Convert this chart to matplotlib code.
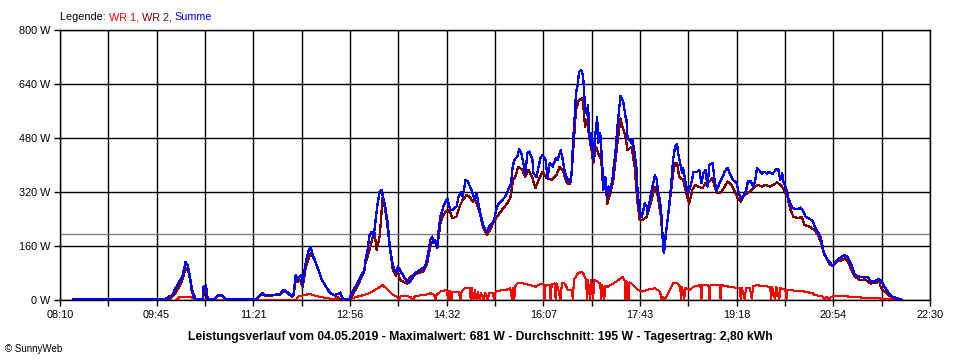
import matplotlib
matplotlib.use("Agg")
import matplotlib.pyplot as plt
import numpy as np

# ---------------- data ----------------
summe = [("08:23", 2), ("09:49", 2), ("09:54", 3), ("09:57", 9), ("10:01", 14), ("10:03", 28),
         ("10:07", 50), ("10:11", 69), ("10:13", 98), ("10:14", 112), ("10:16", 105), ("10:17", 92),
         ("10:19", 59), ("10:20", 30), ("10:22", 9), ("10:24", 2), ("10:31", 2), ("10:32", 40),
         ("10:34", 43), ("10:35", 30), ("10:36", 2), ("10:43", 3), ("10:46", 14), ("10:50", 14),
         ("10:52", 9), ("10:54", 3), ("11:03", 2), ("11:24", 2), ("11:26", 8), ("11:30", 20),
         ("11:33", 14), ("11:38", 14), ("11:43", 16), ("11:47", 16), ("11:51", 30), ("11:54", 25),
         ("11:56", 20), ("11:59", 12), ("12:01", 20), ("12:03", 74), ("12:05", 59), ("12:07", 69),
         ("12:09", 74), ("12:10", 45), ("12:12", 95), ("12:14", 127), ("12:16", 148), ("12:18", 156),
         ("12:20", 133), ("12:23", 109), ("12:26", 84), ("12:29", 59), ("12:33", 39), ("12:37", 20),
         ("12:41", 15), ("12:45", 18), ("12:47", 22), ("12:49", 5), ("12:52", 2), ("12:56", 2),
         ("12:57", 10), ("13:00", 30), ("13:03", 44), ("13:07", 69), ("13:11", 89), ("13:12", 119),
         ("13:14", 148), ("13:16", 193), ("13:18", 202), ("13:20", 188), ("13:22", 237), ("13:24", 286),
         ("13:26", 321), ("13:28", 326), ("13:30", 291), ("13:32", 257), ("13:34", 212), ("13:36", 158),
         ("13:38", 119), ("13:40", 94), ("13:42", 79), ("13:44", 99), ("13:46", 89), ("13:49", 74),
         ("13:52", 59), ("13:55", 51), ("13:58", 64), ("14:01", 79), ("14:06", 89), ("14:11", 99),
         ("14:14", 138), ("14:16", 178), ("14:18", 188), ("14:19", 168), ("14:21", 178), ("14:23", 153),
         ("14:24", 198), ("14:26", 247), ("14:29", 277), ("14:33", 301), ("14:34", 286), ("14:36", 267),
         ("14:38", 267), ("14:42", 277), ("14:44", 306), ("14:47", 321), ("14:48", 306), ("14:51", 356),
         ("14:53", 351), ("14:56", 331), ("14:58", 316), ("15:00", 296), ("15:02", 316), ("15:03", 296),
         ("15:05", 262), ("15:07", 237), ("15:09", 217), ("15:12", 202), ("15:14", 217), ("15:17", 227),
         ("15:19", 237), ("15:22", 277), ("15:24", 286), ("15:27", 296), ("15:30", 306), ("15:33", 326),
         ("15:36", 346), ("15:37", 385), ("15:39", 415), ("15:42", 425), ("15:44", 446), ("15:46", 435),
         ("15:48", 405), ("15:50", 375), ("15:52", 435), ("15:54", 440), ("15:57", 415), ("15:58", 375),
         ("16:01", 365), ("16:03", 395), ("16:05", 420), ("16:07", 430), ("16:10", 415), ("16:12", 360),
         ("16:14", 405), ("16:17", 395), ("16:20", 420), ("16:22", 415), ("16:25", 444), ("16:27", 415),
         ("16:28", 395), ("16:30", 370), ("16:32", 356), ("16:35", 351), ("16:36", 385), ("16:37", 464),
         ("16:39", 553), ("16:40", 612), ("16:42", 642), ("16:43", 676), ("16:45", 681), ("16:47", 667),
         ("16:48", 622), ("16:49", 573), ("16:51", 548), ("16:52", 578), ("16:53", 504), ("16:55", 454),
         ("16:56", 494), ("16:57", 415), ("16:59", 484), ("17:01", 543), ("17:02", 464), ("17:04", 494),
         ("17:06", 405), ("17:07", 326), ("17:09", 365), ("17:11", 306), ("17:12", 336), ("17:14", 326),
         ("17:16", 356), ("17:17", 385), ("17:19", 435), ("17:21", 514), ("17:23", 573), ("17:24", 604),
         ("17:26", 593), ("17:27", 583), ("17:29", 543), ("17:30", 533), ("17:31", 479), ("17:33", 474),
         ("17:35", 464), ("17:36", 474), ("17:38", 435), ("17:40", 385), ("17:41", 316), ("17:43", 267),
         ("17:45", 247), ("17:46", 257), ("17:48", 286), ("17:50", 277), ("17:51", 257), ("17:53", 296),
         ("17:55", 326), ("17:58", 370), ("18:00", 356), ("18:01", 326), ("18:03", 296), ("18:05", 237),
         ("18:06", 158), ("18:07", 138), ("18:09", 198), ("18:11", 247), ("18:14", 336), ("18:16", 415),
         ("18:18", 454), ("18:20", 461), ("18:21", 435), ("18:23", 405), ("18:25", 375), ("18:26", 390),
         ("18:28", 356), ("18:30", 321), ("18:31", 316), ("18:33", 336), ("18:35", 356), ("18:36", 380),
         ("18:40", 380), ("18:42", 385), ("18:44", 346), ("18:46", 375), ("18:48", 385), ("18:50", 336),
         ("18:52", 400), ("18:55", 407), ("18:56", 385), ("18:57", 356), ("18:59", 326), ("19:02", 346),
         ("19:05", 365), ("19:07", 380), ("19:10", 392), ("19:12", 375), ("19:15", 356), ("19:17", 351),
         ("19:19", 346), ("19:21", 316), ("19:24", 296), ("19:26", 311), ("19:28", 321), ("19:30", 351),
         ("19:33", 351), ("19:35", 336), ("19:37", 351), ("19:39", 390), ("19:41", 385), ("19:44", 375),
         ("19:46", 380), ("19:49", 375), ("19:51", 380), ("19:54", 373), ("19:56", 380), ("19:58", 387),
         ("20:00", 387), ("20:02", 356), ("20:04", 375), ("20:05", 351), ("20:07", 336), ("20:09", 316),
         ("20:10", 301), ("20:12", 285), ("20:14", 272), ("20:17", 270), ("20:20", 270), ("20:22", 274),
         ("20:24", 267), ("20:27", 247), ("20:30", 242), ("20:34", 235), ("20:36", 219), ("20:38", 207),
         ("20:41", 193), ("20:43", 173), ("20:44", 153), ("20:46", 133), ("20:48", 123), ("20:50", 114),
         ("20:53", 104), ("20:55", 104), ("20:58", 119), ("21:00", 123), ("21:03", 128), ("21:05", 133),
         ("21:08", 130), ("21:10", 119), ("21:13", 99), ("21:15", 79), ("21:18", 71), ("21:21", 69),
         ("21:24", 67), ("21:28", 69), ("21:31", 57), ("21:34", 54), ("21:37", 59), ("21:39", 61),
         ("21:42", 59), ("21:44", 44), ("21:47", 30), ("21:50", 18), ("21:53", 10), ("21:57", 5),
         ("22:00", 3), ("22:02", 0)]

wr2 = [("09:54", 0), ("09:59", 5), ("10:04", 20), ("10:09", 45), ("10:12", 70), ("10:14", 94),
       ("10:17", 85), ("10:19", 55), ("10:21", 25), ("10:24", 3), ("10:31", 0), ("10:33", 38),
       ("10:35", 20), ("10:36", 0), ("10:43", 2), ("10:46", 12), ("10:50", 12), ("10:54", 2),
       ("11:24", 2), ("11:26", 7), ("11:30", 18), ("11:33", 13), ("11:38", 13), ("11:43", 15),
       ("11:47", 15), ("11:51", 28), ("11:54", 23), ("11:56", 18), ("11:59", 10), ("12:01", 15),
       ("12:03", 60), ("12:05", 54), ("12:07", 60), ("12:10", 39), ("12:13", 99), ("12:17", 133),
       ("12:18", 138), ("12:21", 123), ("12:25", 94), ("12:29", 59), ("12:33", 39), ("12:37", 22),
       ("12:42", 12), ("12:47", 3), ("12:52", 0), ("12:57", 3), ("13:03", 35), ("13:10", 79),
       ("13:12", 110), ("13:16", 148), ("13:19", 185), ("13:21", 198), ("13:23", 148), ("13:26", 188),
       ("13:29", 306), ("13:31", 286), ("13:34", 227), ("13:36", 158), ("13:39", 89), ("13:42", 71),
       ("13:44", 85), ("13:46", 59), ("13:53", 49), ("13:56", 69), ("14:03", 79), ("14:09", 84),
       ("14:13", 109), ("14:14", 128), ("14:16", 158), ("14:18", 173), ("14:21", 168), ("14:23", 158),
       ("14:26", 227), ("14:29", 252), ("14:33", 267), ("14:36", 257), ("14:38", 242), ("14:42", 247),
       ("14:45", 277), ("14:48", 296), ("14:52", 311), ("14:55", 306), ("14:58", 291), ("15:00", 296),
       ("15:02", 286), ("15:05", 257), ("15:08", 217), ("15:12", 193), ("15:15", 207), ("15:18", 227),
       ("15:22", 247), ("15:27", 267), ("15:32", 286), ("15:35", 301), ("15:38", 356), ("15:40", 365),
       ("15:43", 395), ("15:47", 385), ("15:50", 365), ("15:53", 385), ("15:57", 361), ("16:00", 331),
       ("16:03", 356), ("16:07", 380), ("16:11", 361), ("16:16", 356), ("16:21", 372), ("16:24", 395),
       ("16:27", 385), ("16:31", 346), ("16:34", 343), ("16:36", 385), ("16:38", 474), ("16:40", 563),
       ("16:43", 593), ("16:46", 597), ("16:47", 588), ("16:49", 514), ("16:51", 533), ("16:53", 484),
       ("16:56", 435), ("16:57", 405), ("17:00", 454), ("17:02", 435), ("17:05", 415), ("17:07", 326),
       ("17:09", 356), ("17:11", 286), ("17:14", 316), ("17:17", 356), ("17:21", 464), ("17:24", 538),
       ("17:26", 514), ("17:29", 484), ("17:31", 444), ("17:35", 454), ("17:38", 395), ("17:41", 286),
       ("17:43", 237), ("17:46", 237), ("17:50", 247), ("17:53", 277), ("17:58", 336), ("18:01", 306),
       ("18:04", 247), ("18:06", 173), ("18:07", 168), ("18:09", 198), ("18:13", 296), ("18:16", 375),
       ("18:18", 405), ("18:20", 407), ("18:22", 365), ("18:26", 356), ("18:30", 306), ("18:32", 286),
       ("18:35", 326), ("18:38", 341), ("18:41", 336), ("18:45", 331), ("18:48", 346), ("18:52", 351),
       ("18:55", 361), ("18:57", 336), ("19:00", 316), ("19:04", 321), ("19:07", 336), ("19:10", 351),
       ("19:14", 341), ("19:17", 321), ("19:20", 301), ("19:23", 291), ("19:25", 306), ("19:29", 316),
       ("19:34", 326), ("19:37", 336), ("19:40", 341), ("19:44", 336), ("19:47", 341), ("19:52", 336),
       ("19:55", 341), ("19:59", 348), ("20:02", 341), ("20:05", 331), ("20:09", 306), ("20:12", 267),
       ("20:15", 247), ("20:20", 242), ("20:23", 247), ("20:26", 222), ("20:31", 217), ("20:36", 207),
       ("20:40", 188), ("20:43", 163), ("20:45", 138), ("20:48", 123), ("20:51", 104), ("20:54", 101),
       ("20:58", 114), ("21:01", 116), ("21:06", 123), ("21:09", 114), ("21:13", 84), ("21:16", 69),
       ("21:21", 59), ("21:26", 61), ("21:31", 49), ("21:37", 51), ("21:40", 54), ("21:41", 40),
       ("21:43", 30), ("21:46", 25), ("21:50", 12), ("21:55", 5), ("22:00", 2), ("22:02", 0)]

wr1 = [("10:05", 0), ("10:08", 8), ("10:12", 10), ("10:17", 10), ("10:20", 8), ("10:23", 3),
       ("10:26", 0), ("12:04", 0), ("12:05", 10), ("12:12", 15), ("12:17", 18), ("12:23", 12),
       ("12:29", 8), ("12:34", 5), ("12:42", 3), ("12:50", 0), ("12:57", 3), ("13:04", 10),
       ("13:11", 15), ("13:16", 20), ("13:24", 35), ("13:29", 44), ("13:34", 30), ("13:39", 15),
       ("13:43", 10), ("13:45", 0), ("13:47", 12), ("13:56", 10), ("13:59", 0), ("14:01", 12),
       ("14:11", 15), ("14:16", 20), ("14:20", 15), ("14:21", 0), ("14:22", 15), ("14:26", 25),
       ("14:32", 30), ("14:34", 0), ("14:35", 28), ("14:37", 0), ("14:38", 25), ("14:44", 25),
       ("14:46", 0), ("14:47", 25), ("14:50", 35), ("14:55", 35), ("14:56", 0), ("14:57", 35),
       ("14:59", 0), ("15:00", 30), ("15:02", 0), ("15:03", 25), ("15:05", 0), ("15:06", 22),
       ("15:09", 0), ("15:10", 22), ("15:13", 0), ("15:14", 20), ("15:18", 20), ("15:19", 0),
       ("15:20", 20), ("15:22", 27), ("15:31", 30), ("15:35", 35), ("15:37", 0), ("15:38", 35),
       ("15:39", 0), ("15:40", 40), ("15:42", 49), ("15:48", 49), ("15:55", 44), ("16:00", 39),
       ("16:04", 46), ("16:08", 46), ("16:09", 0), ("16:10", 44), ("16:14", 44), ("16:15", 0),
       ("16:16", 46), ("16:19", 49), ("16:20", 0), ("16:21", 49), ("16:25", 0), ("16:26", 49),
       ("16:29", 49), ("16:32", 30), ("16:36", 30), ("16:37", 0), ("16:38", 60), ("16:42", 79),
       ("16:46", 84), ("16:48", 74), ("16:50", 59), ("16:51", 0), ("16:52", 59), ("16:54", 0),
       ("16:55", 59), ("16:57", 0), ("16:58", 59), ("17:01", 55), ("17:04", 49), ("17:05", 0),
       ("17:06", 45), ("17:08", 0), ("17:09", 42), ("17:11", 39), ("17:17", 49), ("17:22", 59),
       ("17:26", 69), ("17:28", 59), ("17:29", 0), ("17:30", 55), ("17:32", 0), ("17:33", 52),
       ("17:35", 49), ("17:41", 30), ("17:46", 25), ("17:50", 30), ("17:58", 35), ("18:03", 25),
       ("18:05", 0), ("18:06", 10), ("18:08", 0), ("18:09", 8), ("18:11", 20), ("18:16", 49),
       ("18:20", 51), ("18:23", 39), ("18:24", 0), ("18:25", 38), ("18:27", 0), ("18:28", 35),
       ("18:33", 30), ("18:36", 39), ("18:43", 44), ("18:44", 0), ("18:45", 44), ("18:51", 44),
       ("18:52", 0), ("18:53", 44), ("19:02", 44), ("19:03", 0), ("19:04", 44), ("19:12", 39),
       ("19:22", 35), ("19:23", 0), ("19:24", 35), ("19:27", 0), ("19:28", 35), ("19:32", 35),
       ("19:34", 0), ("19:35", 40), ("19:38", 44), ("19:52", 39), ("19:53", 0), ("19:54", 39),
       ("19:57", 0), ("19:58", 39), ("20:01", 0), ("20:02", 35), ("20:07", 30), ("20:08", 0),
       ("20:09", 30), ("20:19", 27), ("20:26", 25), ("20:34", 20), ("20:36", 15), ("20:44", 10),
       ("20:46", 0), ("20:47", 10), ("20:51", 0), ("20:52", 10), ("21:01", 12), ("21:11", 10),
       ("21:28", 6), ("21:44", 4), ("21:50", 2), ("21:55", 0)]

average_w = 195
y_ticks = [0, 160, 320, 480, 640, 800]
x_start, x_end = "08:10", "22:30"
x_tick_labels = ["08:10", "09:45", "11:21", "12:56", "14:32", "16:07", "17:43", "19:18", "20:54", "22:30"]
legend_parts = [("Legende: ", "#000000"), ("WR 1, ", "#ff0000"), ("WR 2, ", "#800000"), ("Summe", "#0000ff")]
title = "Leistungsverlauf vom 04.05.2019 - Maximalwert: 681 W - Durchschnitt: 195 W - Tagesertrag: 2,80 kWh"
credit = "\u00a9 SunnyWeb"


def to_min(s):
    h, m = s.split(":")
    return int(h) * 60 + int(m)


def series(pairs):
    return np.array([to_min(t) for t, _ in pairs]), np.array([v for _, v in pairs])


# ---------------- plot ----------------
plt.rcParams["font.family"] = ["Liberation Sans", "DejaVu Sans"]
fig = plt.figure(figsize=(9.6, 3.6), dpi=100)
fig.patch.set_facecolor("white")
ax = fig.add_axes([60 / 960, 60 / 360, 870 / 960, 270 / 360])

x0, x1 = to_min(x_start), to_min(x_end)
ax.set_xlim(x0, x1)
ax.set_ylim(0, 800)

grid_x = np.linspace(x0, x1, 2 * (len(x_tick_labels) - 1) + 1)
ax.set_xticks(grid_x)
labels = []
for i in range(len(grid_x)):
    labels.append(x_tick_labels[i // 2] if i % 2 == 0 else "")
ax.set_xticklabels(labels)
ax.set_yticks(y_ticks)
ax.set_yticklabels([f"{v} W" for v in y_ticks])
ax.tick_params(axis="both", direction="out", length=4, width=1, color="black",
               labelsize=7.8, pad=3)

for gx in grid_x:
    ax.axvline(gx, color="black", lw=1.0, zorder=1)
for gy in y_ticks:
    ax.axhline(gy, color="black", lw=1.0, zorder=1)
for sp in ax.spines.values():
    sp.set_color("black")
    sp.set_linewidth(1.0)

ax.axhline(average_w, color="#808080", lw=1.0, zorder=2)

t, v = series(wr1)
ax.plot(t, v, color="#ff0000", lw=0.75, zorder=3, antialiased=False)
t, v = series(wr2)
ax.plot(t, v, color="#800000", lw=0.9, zorder=4, antialiased=False)
t, v = series(summe)
ax.plot(t, v, color="#0000ff", lw=0.9, zorder=5, antialiased=False)

fig.text(0.5, 23 / 360, title, ha="center", va="center", fontsize=8.7, fontweight="bold")
fig.text(5 / 960, 11 / 360, credit, ha="left", va="center", fontsize=7)

renderer = fig.canvas.get_renderer()
xpos = 60 / 960
for txt, col in legend_parts:
    tt = fig.text(xpos, 343 / 360, txt, ha="left", va="center", fontsize=7.8, color=col)
    bb = tt.get_window_extent(renderer=renderer)
    xpos += bb.width / 960

fig.savefig("out.png", dpi=100)
